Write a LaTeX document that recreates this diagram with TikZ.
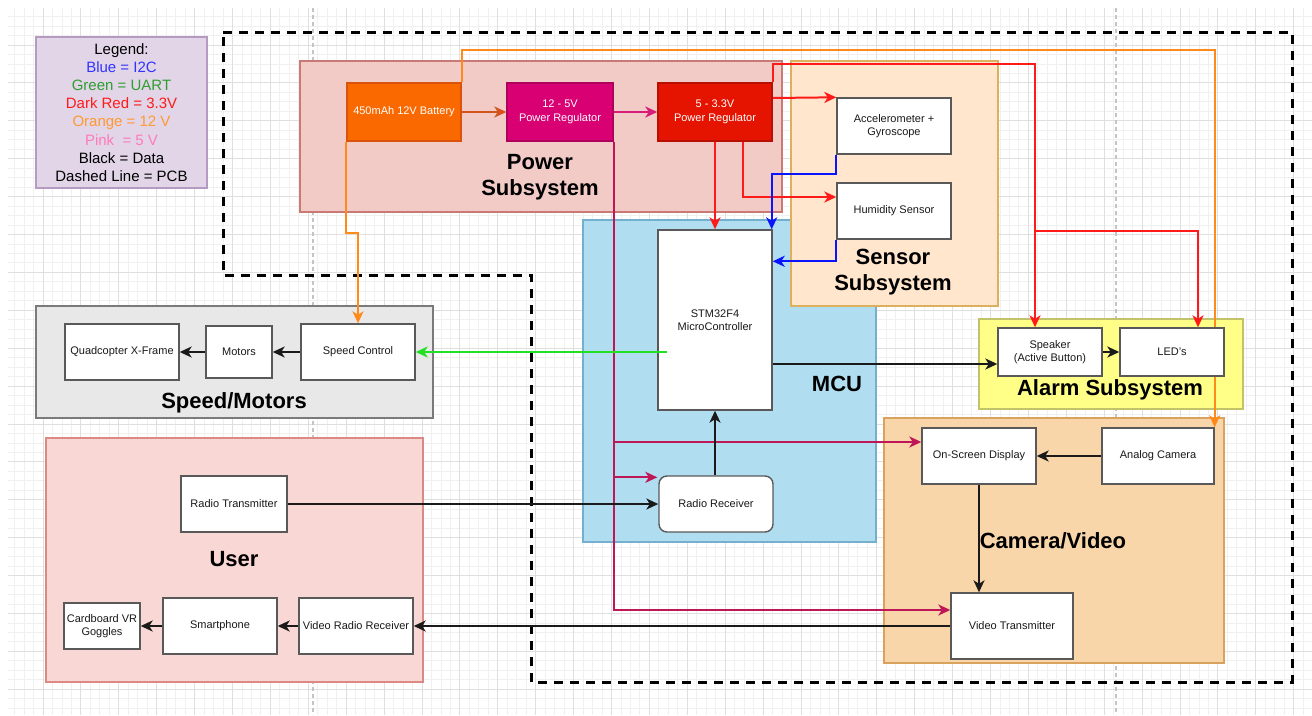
\documentclass[tikz,border=0pt]{standalone}
\usepackage{fontspec}
\setmainfont{Liberation Sans}
\usetikzlibrary{arrows.meta,calc}

\definecolor{gridminor}{HTML}{F0F0F0}
\definecolor{gridmajor}{HTML}{DFDFDF}
\definecolor{pagebreak}{HTML}{C4C4C4}
\definecolor{legfill}{HTML}{E1D5E7}
\definecolor{legdraw}{HTML}{B59BC2}
\definecolor{powfill}{HTML}{F2CBC7}
\definecolor{powdraw}{HTML}{C97A75}
\definecolor{senfill}{HTML}{FFE6CC}
\definecolor{sendraw}{HTML}{DDB060}
\definecolor{mcufill}{HTML}{B1DDF0}
\definecolor{mcudraw}{HTML}{74AFCD}
\definecolor{spdfill}{HTML}{E8E8E8}
\definecolor{spddraw}{HTML}{7A7A7A}
\definecolor{usrfill}{HTML}{F9D7D4}
\definecolor{usrdraw}{HTML}{DB8A83}
\definecolor{almfill}{HTML}{FFFF88}
\definecolor{almdraw}{HTML}{C2C26A}
\definecolor{camfill}{HTML}{F9D6AA}
\definecolor{camdraw}{HTML}{D9A25E}
\definecolor{batfill}{HTML}{FA6800}
\definecolor{batdraw}{HTML}{D9530A}
\definecolor{regAfill}{HTML}{D80073}
\definecolor{regAdraw}{HTML}{B0005E}
\definecolor{regBfill}{HTML}{E51400}
\definecolor{regBdraw}{HTML}{B81000}
\definecolor{wireI2C}{HTML}{0A14FF}
\definecolor{wireUART}{HTML}{22E022}
\definecolor{wireRed}{HTML}{FF1A1A}
\definecolor{wireOrange}{HTML}{FF8A1A}
\definecolor{wirePink}{HTML}{BE1656}
\definecolor{wireBat}{HTML}{D4521B}
\definecolor{wireReg}{HTML}{D61C78}
\definecolor{wireData}{HTML}{1A1A1A}
\definecolor{legBlue}{HTML}{3333FF}
\definecolor{legGreen}{HTML}{2E9E2E}
\definecolor{legRed}{HTML}{FF1A1A}
\definecolor{legOrange}{HTML}{FF9933}
\definecolor{legPink}{HTML}{FF7AB8}

\pgfdeclarelayer{bg}
\pgfdeclarelayer{wires}
\pgfdeclarelayer{fg}
\pgfsetlayers{bg,wires,main,fg}

\tikzset{
  container/.style={draw, line width=1.4pt, rectangle},
  blk/.style={draw=black!65, fill=white, line width=1.4pt, rectangle, inner sep=0pt,
    align=center, text=black!90, font=\fontsize{11}{13.5}\selectfont},
  pwr/.style={blk, text=white},
  ttl/.style={font=\fontsize{22}{26}\selectfont\bfseries, align=center, text=black, inner sep=0pt},
  wire/.style={line width=2pt, -{Stealth[length=12pt,width=11pt,inset=3.5pt]}},
}

\begin{document}
\begin{tikzpicture}[x=1pt, y=-1pt]
\useasboundingbox (0,0) rectangle (1312,715);

\begin{pgfonlayer}{bg}
\fill[white] (0,0) rectangle (1312,715);
% background grid
\begin{scope}
  \clip (8,8) rectangle (1312,715);
  \foreach \i in {0,...,138} \draw[gridminor, line width=0.7pt] ({5+\i*9.475},8) -- ({5+\i*9.475},715);
  \foreach \j in {0,...,75} \draw[gridminor, line width=0.7pt] (8,{7+\j*9.475}) -- (1312,{7+\j*9.475});
  \foreach \i in {0,...,34} \draw[gridmajor, line width=0.7pt] ({5+\i*37.9},8) -- ({5+\i*37.9},715);
  \foreach \j in {0,...,18} \draw[gridmajor, line width=0.7pt] (8,{7+\j*37.9}) -- (1312,{7+\j*37.9});
\end{scope}
\draw[pagebreak, line width=1.2pt, dash pattern=on 4pt off 3pt] (313,8) -- (313,715);
\draw[pagebreak, line width=1.2pt, dash pattern=on 4pt off 3pt] (1116,8) -- (1116,715);

% legend
\draw[container, draw=legdraw, fill=legfill] (36,37) rectangle (207,188);
\node[align=center, font=\fontsize{15}{18.1}\selectfont, inner sep=0pt] (legend) at (121.5,112.5)
  {Legend:\\ \textcolor{legBlue}{Blue = I2C}\\ \textcolor{legGreen}{Green = UART}\\
   \textcolor{legRed}{Dark Red = 3.3V}\\ \textcolor{legOrange}{Orange = 12 V}\\
   \textcolor{legPink}{Pink \ = 5 V}\\ Black = Data\\ Dashed Line = PCB};

% PCB outline
\draw[line width=3pt, dash pattern=on 9pt off 7pt] (223,32) -- (1292,32) -- (1292,682) -- (531,682) -- (531,275) -- (223,275) -- cycle;

% subsystem containers
\draw[container, draw=powdraw, fill=powfill] (300,61) rectangle (782,212);
\draw[container, draw=mcudraw, fill=mcufill] (583,220) rectangle (876,542);
\draw[container, draw=sendraw, fill=senfill] (791,61) rectangle (998,306);
\draw[container, draw=spddraw, fill=spdfill] (36,306) rectangle (433,418);
\draw[container, draw=usrdraw, fill=usrfill] (46,438) rectangle (423,682);
\draw[container, draw=almdraw, fill=almfill] (979,319) rectangle (1243,409);
\draw[container, draw=camdraw, fill=camfill] (884,418) rectangle (1224,663);

% subsystem titles
\node[ttl] (tpow) at (540,177) {Power\\Subsystem};
\node[ttl] (tsen) at (893,272) {Sensor\\Subsystem};
\node[ttl] (tmcu) at (837,384) {MCU};
\node[ttl] (tspd) at (234,403) {Speed/Motors};
\node[ttl] (tusr) at (234,559) {User};
\node[ttl] (talm) at (1110,390) {Alarm Subsystem};
\node[ttl] (tcam) at (1053,541) {Camera/Video};
\end{pgfonlayer}

% component blocks
\node[pwr, draw=batdraw, fill=batfill, minimum width=114pt, minimum height=58pt] (bat) at (404,112) {450mAh 12V Battery};
\node[pwr, draw=regAdraw, fill=regAfill, minimum width=106pt, minimum height=58pt] (reg5) at (560,112) {12 - 5V\\Power Regulator};
\node[pwr, draw=regBdraw, fill=regBfill, minimum width=114pt, minimum height=58pt] (reg33) at (715,112) {5 - 3.3V\\Power Regulator};

\node[blk, minimum width=114pt, minimum height=56pt] (accel) at (894,126) {Accelerometer +\\Gyroscope};
\node[blk, minimum width=114pt, minimum height=56pt] (humid) at (894,211) {Humidity Sensor};

\node[blk, minimum width=114pt, minimum height=180pt] (stm) at (715,320) {STM32F4\\MicroController};
\node[blk, rounded corners=8pt, minimum width=114pt, minimum height=56pt] (rrx) at (716,504) {Radio Receiver};

\node[blk, minimum width=114pt, minimum height=56pt] (quad) at (122,352) {Quadcopter X-Frame};
\node[blk, minimum width=66pt, minimum height=52pt] (motors) at (239,352) {Motors};
\node[blk, minimum width=114pt, minimum height=56pt] (speed) at (358,352) {Speed Control};

\node[blk, minimum width=106pt, minimum height=56pt] (rtx) at (234,504) {Radio Transmitter};
\node[blk, minimum width=76pt, minimum height=46pt] (goggles) at (102,626) {Cardboard VR\\Goggles};
\node[blk, minimum width=114pt, minimum height=56pt] (phone) at (220,626) {Smartphone};
\node[blk, minimum width=114pt, minimum height=56pt] (vrr) at (356,626) {Video Radio Receiver};

\node[blk, minimum width=104pt, minimum height=48pt] (spk) at (1050,352) {Speaker\\(Active Button)};
\node[blk, minimum width=104pt, minimum height=48pt] (led) at (1172,352) {LED's};

\node[blk, minimum width=114pt, minimum height=56pt] (osd) at (979,456) {On-Screen Display};
\node[blk, minimum width=112pt, minimum height=56pt] (cam) at (1158,456) {Analog Camera};
\node[blk, minimum width=122pt, minimum height=66pt] (vtx) at (1012,626) {Video Transmitter};

\begin{pgfonlayer}{wires}
% 12 V supply
\draw[wire, wireOrange] (bat.north east) -- ++(0,-32) -| (cam.north east);
\draw[wire, wireOrange] (bat.south west) -- ++(0,91) -| (speed.north);
\draw[wire, wireBat] (bat.east) -- (reg5.west);

% 5 V supply
\draw[wire, wireReg] (reg5.east) -- (reg33.west);
\draw[wire, wirePink] (reg5.south east) |- ([yshift=16pt]vtx.west);
\draw[wire, wirePink] ([yshift=14pt]osd.west -| reg5.south east) -- ([yshift=14pt]osd.west);
\draw[wire, wirePink] ([yshift=-2pt]rrx.north west -| reg5.south east) -- ([yshift=-2pt,xshift=-1pt]rrx.north west);

% 3.3 V supply
\draw[wire, wireRed] (reg33.south) -- (stm.north);
\draw[wire, wireRed] ([xshift=28pt]reg33.south) |- ([yshift=14pt]humid.west);
\draw[wire, wireRed] ([yshift=14pt]reg33.east) -- (accel.north west);
\draw[wire, wireRed] (reg33.north east) -- ++(0,-18) -| ([xshift=-15pt]spk.north);
\coordinate (ledtap) at ([xshift=-15pt]spk.north |- 0,231);
\draw[wire, wireRed] (ledtap) -| ([xshift=26pt]led.north);

% I2C buses
\draw[wire, wireI2C] (accel.south west) -- ++(0,19) -| ([xshift=-1pt]stm.north east);
\draw[wire, wireI2C] (humid.south west) |- ([yshift=-32pt]stm.north east);

% data links
\draw[wire, wireData] ([yshift=-12pt]spk.west -| stm.east) -- ([yshift=-12pt]spk.west);
\draw[wire, wireData] (spk.east) -- (led.west);
\draw[wire, wireData] (speed.west) -- (motors.east);
\draw[wire, wireData] (motors.west) -- (quad.east);
\draw[wire, wireData] (rtx.east) -- (rtx.east -| rrx.west);
\draw[wire, wireData] (rrx.north -| stm.south) -- (stm.south);
\draw[wire, wireData] (cam.west) -- (osd.east);
\draw[wire, wireData] (osd.south) -- (osd.south |- vtx.north);
\draw[wire, wireData] (vtx.west) -- (vrr.east);
\draw[wire, wireData] (vrr.west) -- (phone.east);
\draw[wire, wireData] (phone.west) -- (goggles.east);
\end{pgfonlayer}

% UART
\begin{pgfonlayer}{fg}
\draw[wire, wireUART] ([xshift=10pt]speed.east -| stm.west) -- (speed.east);
\end{pgfonlayer}
\end{tikzpicture}
\end{document}
